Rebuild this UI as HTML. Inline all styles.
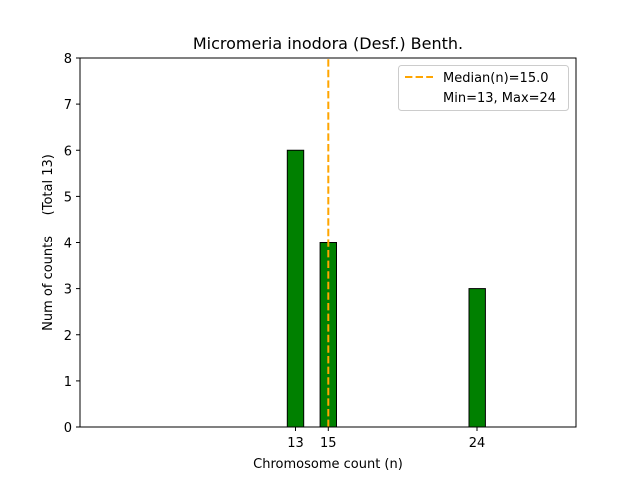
<!DOCTYPE html>
<html><head><style>body{margin:0;background:#fff}</style></head><body>
<svg width="640" height="480" xmlns="http://www.w3.org/2000/svg" font-family="DejaVu Sans, Liberation Sans, sans-serif">
<rect width="640" height="480" fill="#fff"/>
<line x1="80" y1="427" x2="535" y2="427" stroke="#888" stroke-width="1"/>
<g fill="#008000" stroke="#000" stroke-width="1">
<rect x="287.3" y="150.25" width="16.4" height="276.75"/>
<rect x="320.1" y="242.5" width="16.4" height="184.5"/>
<rect x="469" y="288.6" width="16.4" height="138.4"/>
</g>
<line x1="328.3" y1="427" x2="328.3" y2="58" stroke="#ffa500" stroke-width="2" stroke-dasharray="7.4,3.2"/>
<rect x="80" y="58" width="496" height="369" fill="none" stroke="#000" stroke-width="1"/>
<g stroke="#000">
<line x1="295.5" y1="427" x2="295.5" y2="431"/><line x1="328.3" y1="427" x2="328.3" y2="431"/><line x1="477" y1="427" x2="477" y2="431"/>
<line x1="76" y1="427" x2="80" y2="427"/><line x1="76" y1="380.9" x2="80" y2="380.9"/><line x1="76" y1="334.75" x2="80" y2="334.75"/><line x1="76" y1="288.6" x2="80" y2="288.6"/><line x1="76" y1="242.5" x2="80" y2="242.5"/><line x1="76" y1="196.4" x2="80" y2="196.4"/><line x1="76" y1="150.25" x2="80" y2="150.25"/><line x1="76" y1="104.1" x2="80" y2="104.1"/><line x1="76" y1="58" x2="80" y2="58"/>
</g>
<g font-size="13" text-anchor="middle" fill="#000">
<text x="295.5" y="447">13</text><text x="328.3" y="447">15</text><text x="477" y="447">24</text>
</g>
<g font-size="13" text-anchor="end" fill="#000">
<text x="72" y="432">0</text><text x="72" y="385.9">1</text><text x="72" y="339.75">2</text><text x="72" y="293.6">3</text><text x="72" y="247.5">4</text><text x="72" y="201.4">5</text><text x="72" y="155.25">6</text><text x="72" y="109.1">7</text><text x="72" y="63">8</text>
</g>
<text x="328" y="468" font-size="13" text-anchor="middle">Chromosome count (n)</text>
<text transform="translate(52,242.5) rotate(-90)" font-size="13" text-anchor="middle" xml:space="preserve">Num of counts     (Total 13)</text>
<text x="328" y="49" font-size="16" text-anchor="middle">Micromeria inodora (Desf.) Benth.</text>
<rect x="398.5" y="65.5" width="170" height="45" rx="3" fill="#fff" stroke="#ccc"/>
<line x1="405" y1="77" x2="433" y2="77" stroke="#ffa500" stroke-width="2" stroke-dasharray="7.4,3.2"/>
<text x="443" y="82" font-size="13">Median(n)=15.0</text>
<text x="443" y="102" font-size="13">Min=13, Max=24</text>
</svg>
</body></html>
